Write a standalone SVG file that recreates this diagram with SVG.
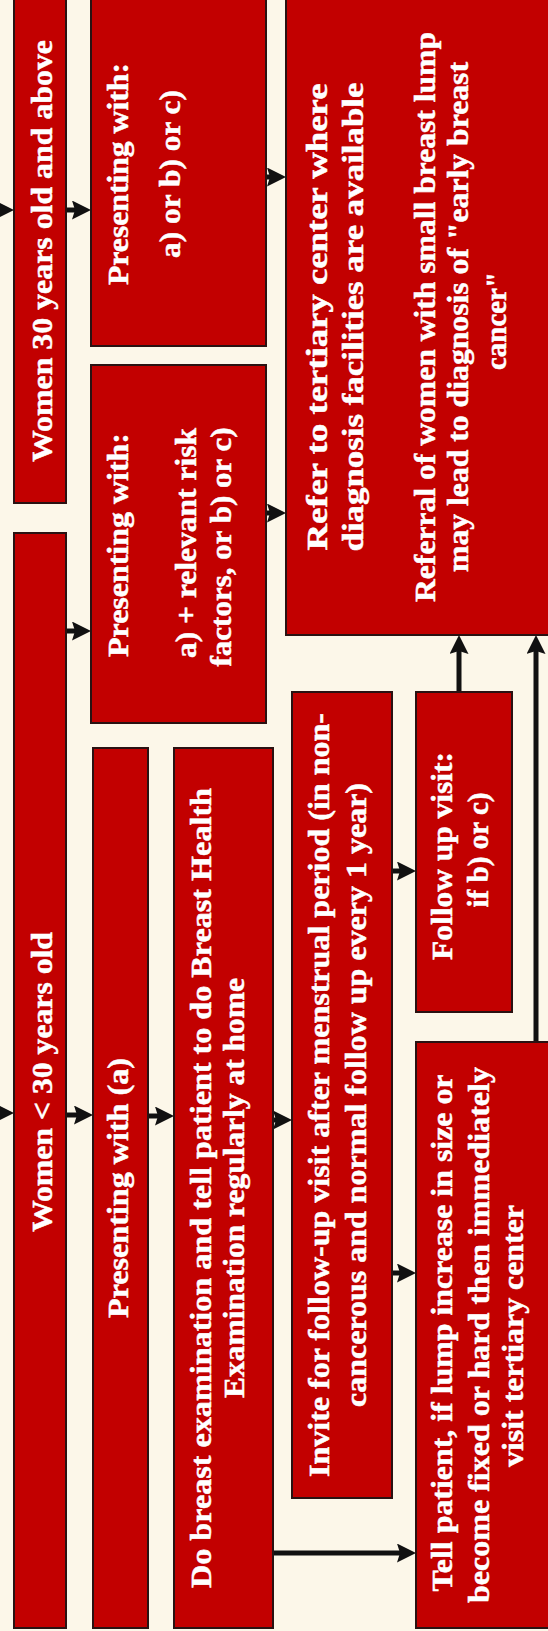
<svg xmlns="http://www.w3.org/2000/svg" width="548" height="1631" viewBox="0 0 548 1631">
<style>
.bg{fill:#FCF7E9}
.box{fill:#C20000;stroke:#2a1212;stroke-width:2}
.t{font-family:"Liberation Serif","DejaVu Serif",serif;font-weight:bold;font-size:30px;fill:#FFFFFF;stroke:#FFFFFF;stroke-width:0.5;text-anchor:middle}
.c{stroke:#111111;stroke-width:5;fill:none;marker-end:url(#ah)}
</style>
<defs>
<marker id="ah" markerUnits="userSpaceOnUse" markerWidth="19" markerHeight="19" refX="7" refY="9.5" orient="auto" viewBox="0 0 19 19">
<path d="M0,0 L19,9.5 L0,19 L3,9.5 z" fill="#111111"/>
</marker>
</defs>
<rect class="bg" x="0" y="0" width="548" height="1631"/>

<g id="connectors">
<line class="c" x1="-5" y1="210" x2="2" y2="210"/>
<line class="c" x1="-5" y1="1113" x2="2" y2="1113"/>
<line class="c" x1="66" y1="210" x2="79" y2="210"/>
<line class="c" x1="66" y1="631" x2="79" y2="631"/>
<line class="c" x1="266" y1="177" x2="274" y2="177"/>
<line class="c" x1="266" y1="513" x2="274" y2="513"/>
<line class="c" x1="66" y1="1115" x2="81" y2="1115"/>
<line class="c" x1="148" y1="1116" x2="162" y2="1116"/>
<line class="c" x1="273" y1="1120" x2="280" y2="1120"/>
<line class="c" x1="392" y1="871" x2="404" y2="871"/>
<line class="c" x1="392" y1="1273" x2="404" y2="1273"/>
<line class="c" x1="273" y1="1553" x2="404" y2="1553"/>
<line class="c" x1="459" y1="692" x2="459" y2="647"/>
<line class="c" x1="536" y1="1042" x2="536" y2="647"/>
</g>

<g id="n-women-30-above">
<rect class="box" x="14" y="-4" width="52" height="507"/>
<text class="t" transform="translate(52,251) rotate(-90)" textLength="422" lengthAdjust="spacingAndGlyphs">Women 30 years old and above</text>
</g>

<g id="n-women-under-30">
<rect class="box" x="14" y="533" width="52" height="1095"/>
<text class="t" transform="translate(52,1082) rotate(-90)" textLength="300" lengthAdjust="spacingAndGlyphs">Women &lt; 30 years old</text>
</g>

<g id="n-presenting-abc">
<rect class="box" x="91" y="-4" width="175" height="350"/>
<text class="t" transform="translate(128,174) rotate(-90)" textLength="222" lengthAdjust="spacingAndGlyphs">Presenting with:</text>
<text class="t" transform="translate(180,174) rotate(-90)" textLength="168" lengthAdjust="spacingAndGlyphs">a) or b) or c)</text>
</g>

<g id="n-presenting-risk">
<rect class="box" x="91" y="365" width="175" height="358"/>
<text class="t" transform="translate(128,545) rotate(-90)" textLength="224" lengthAdjust="spacingAndGlyphs">Presenting with:</text>
<text class="t" transform="translate(196,543) rotate(-90)" textLength="230" lengthAdjust="spacingAndGlyphs">a) + relevant risk</text>
<text class="t" transform="translate(231,547) rotate(-90)" textLength="239" lengthAdjust="spacingAndGlyphs">factors, or b) or c)</text>
</g>

<g id="n-presenting-a">
<rect class="box" x="93" y="748" width="55" height="880"/>
<text class="t" transform="translate(128,1188) rotate(-90)" textLength="260" lengthAdjust="spacingAndGlyphs">Presenting with (a)</text>
</g>

<g id="n-breast-exam">
<rect class="box" x="174" y="748" width="99" height="880"/>
<text class="t" transform="translate(211,1188) rotate(-90)" textLength="800" lengthAdjust="spacingAndGlyphs">Do breast examination and tell patient to do  Breast Health</text>
<text class="t" transform="translate(244,1188) rotate(-90)" textLength="420" lengthAdjust="spacingAndGlyphs">Examination regularly at home</text>
</g>

<g id="n-refer">
<rect class="box" x="286" y="-4" width="275" height="639"/>
<text class="t" transform="translate(327,317) rotate(-90)" textLength="467" lengthAdjust="spacingAndGlyphs">Refer to  tertiary center where</text>
<text class="t" transform="translate(363,317) rotate(-90)" textLength="469" lengthAdjust="spacingAndGlyphs">diagnosis facilities are available</text>
<text class="t" transform="translate(435,317) rotate(-90)" textLength="570" lengthAdjust="spacingAndGlyphs">Referral of women with small breast lump</text>
<text class="t" transform="translate(468,317) rotate(-90)" textLength="510" lengthAdjust="spacingAndGlyphs">may lead to diagnosis of "early breast</text>
<text class="t" transform="translate(506,321) rotate(-90)" textLength="98" lengthAdjust="spacingAndGlyphs">cancer"</text>
</g>

<g id="n-invite">
<rect class="box" x="292" y="692" width="100" height="806"/>
<text class="t" transform="translate(329,1095) rotate(-90)" textLength="764" lengthAdjust="spacingAndGlyphs">Invite for follow-up visit after menstrual period (in non-</text>
<text class="t" transform="translate(366,1095) rotate(-90)" textLength="624" lengthAdjust="spacingAndGlyphs">cancerous and normal follow up every 1 year)</text>
</g>

<g id="n-follow-up">
<rect class="box" x="416" y="692" width="96" height="320"/>
<text class="t" transform="translate(452,856) rotate(-90)" textLength="208" lengthAdjust="spacingAndGlyphs">Follow up visit:</text>
<text class="t" transform="translate(488,850) rotate(-90)" textLength="115" lengthAdjust="spacingAndGlyphs">if b) or c)</text>
</g>

<g id="n-tell-patient">
<rect class="box" x="416" y="1042" width="145" height="586"/>
<text class="t" transform="translate(452,1333) rotate(-90)" textLength="517" lengthAdjust="spacingAndGlyphs">Tell patient, if lump increase in size or</text>
<text class="t" transform="translate(489,1335) rotate(-90)" textLength="536" lengthAdjust="spacingAndGlyphs">become fixed or hard then immediately</text>
<text class="t" transform="translate(523,1336) rotate(-90)" textLength="262" lengthAdjust="spacingAndGlyphs">visit tertiary center</text>
</g>
</svg>
